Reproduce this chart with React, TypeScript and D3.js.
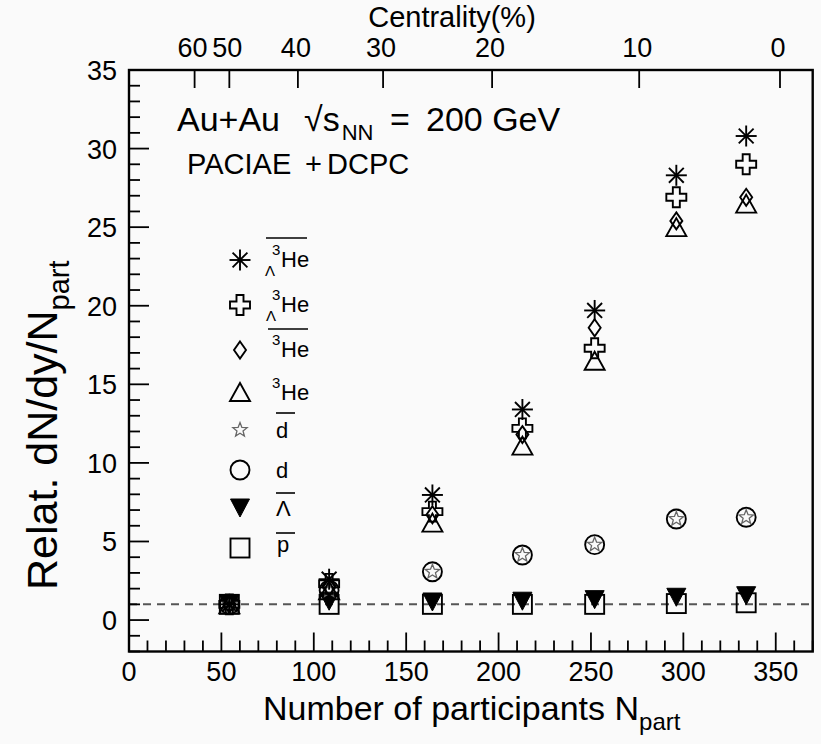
import React, { useEffect } from 'react';
import * as d3 from 'd3';

// ---- data ----
const npart = [54.3, 108.3, 164.2, 212.9, 252.0, 296.2, 334.0];
const hypHe3Bar = [1, 2.6, 7.96, 13.4, 19.7, 28.3, 30.8];
const hypHe3 = [1, 2.3, 6.9, 12.2, 17.3, 26.9, 29.0];
const he3Bar = [1, 2.1, 6.7, 11.8, 18.6, 25.4, 26.9];
const he3 = [1, 1.9, 6.2, 11.1, 16.5, 25.0, 26.5];
const dBar = [1, 1.9, 3.07, 4.14, 4.8, 6.43, 6.54];
const dVals = [1, 1.9, 3.07, 4.14, 4.8, 6.43, 6.54];
const lambdaBar = [1, 1.2, 1.15, 1.2, 1.3, 1.45, 1.55];
const pBar = [1, 1, 1, 1, 1, 1.05, 1.1];

const xTicks = [0, 50, 100, 150, 200, 250, 300, 350];
const yTicks = [0, 5, 10, 15, 20, 25, 30, 35];
const centralityLabels = ['60', '50', '40', '30', '20', '10', '0'];
const centralityNpart = [35.5, 54.3, 91.4, 137.5, 196.5, 276.1, 352.3];

type Shape = 'asterisk' | 'cross' | 'diamond' | 'triUp' | 'star' | 'circle' | 'triDown' | 'square';

const seriesList: { key: string; shape: Shape; values: number[] }[] = [
  { key: 'pbar', shape: 'square', values: pBar },
  { key: 'lbar', shape: 'triDown', values: lambdaBar },
  { key: 'd', shape: 'circle', values: dVals },
  { key: 'dbar', shape: 'star', values: dBar },
  { key: 'he3', shape: 'triUp', values: he3 },
  { key: 'he3bar', shape: 'diamond', values: he3Bar },
  { key: 'hyphe3', shape: 'cross', values: hypHe3 },
  { key: 'hyphe3bar', shape: 'asterisk', values: hypHe3Bar },
];

const FONT = '"Liberation Sans", Arial, Helvetica, sans-serif';

function Marker({ shape, cx, cy }: { shape: Shape; cx: number; cy: number }) {
  const sw = 1.9;
  switch (shape) {
    case 'asterisk': {
      const r = 10.5;
      const d = r * Math.SQRT1_2;
      return (
        <g stroke="#000" strokeWidth={sw} fill="none">
          <line x1={cx - r} y1={cy} x2={cx + r} y2={cy} />
          <line x1={cx} y1={cy - r} x2={cx} y2={cy + r} />
          <line x1={cx - d} y1={cy - d} x2={cx + d} y2={cy + d} />
          <line x1={cx - d} y1={cy + d} x2={cx + d} y2={cy - d} />
          <circle cx={cx} cy={cy} r={2} fill="#000" stroke="none" />
        </g>
      );
    }
    case 'cross': {
      const a = 10, b = 3.5;
      const p = [
        [-b, -a], [b, -a], [b, -b], [a, -b], [a, b], [b, b], [b, a], [-b, a], [-b, b], [-a, b], [-a, -b], [-b, -b],
      ].map(([x, y]) => `${cx + x},${cy + y}`).join(' ');
      return <polygon points={p} fill="none" stroke="#000" strokeWidth={sw} strokeLinejoin="miter" />;
    }
    case 'diamond': {
      const w = 6, h = 8.5;
      const p = `${cx},${cy - h} ${cx + w},${cy} ${cx},${cy + h} ${cx - w},${cy}`;
      return <polygon points={p} fill="none" stroke="#000" strokeWidth={sw} />;
    }
    case 'triUp': {
      const w = 10, h = 9;
      const p = `${cx},${cy - h} ${cx + w},${cy + h} ${cx - w},${cy + h}`;
      return <polygon points={p} fill="none" stroke="#000" strokeWidth={sw} />;
    }
    case 'triDown': {
      const w = 9.5, h = 9;
      const p = `${cx - w},${cy - h} ${cx + w},${cy - h} ${cx},${cy + h}`;
      return <polygon points={p} fill="#000" stroke="#000" strokeWidth={1} />;
    }
    case 'square': {
      const s = 9.5;
      return <rect x={cx - s} y={cy - s} width={2 * s} height={2 * s} fill="none" stroke="#000" strokeWidth={sw} />;
    }
    case 'circle':
      return <circle cx={cx} cy={cy} r={9.5} fill="none" stroke="#000" strokeWidth={sw} />;
    case 'star': {
      const ro = 7.5, ri = 3.2;
      const pts: string[] = [];
      for (let i = 0; i < 10; i++) {
        const r = i % 2 === 0 ? ro : ri;
        const ang = -Math.PI / 2 + (i * Math.PI) / 5;
        pts.push(`${cx + r * Math.cos(ang)},${cy + r * Math.sin(ang)}`);
      }
      return <polygon points={pts.join(' ')} fill="none" stroke="#666" strokeWidth={1.3} />;
    }
  }
  return null;
}

export default function App() {
  useEffect(() => {
    document.body.style.margin = '0';
  }, []);

  const W = 821, H = 744;
  const left = 129, right = 812.7, top = 70, bottom = 651.5;
  const x = d3.scaleLinear().domain([0, 370]).range([left, right]);
  const y = d3.scaleLinear().domain([-2, 35]).range([bottom, top]);

  const xMinor = d3.range(0, 371, 10);
  const yMinor = d3.range(-2, 36, 1);

  const legendRows: { shape: Shape; cy: number }[] = [
    { shape: 'asterisk', cy: 260 },
    { shape: 'cross', cy: 305 },
    { shape: 'diamond', cy: 350 },
    { shape: 'triUp', cy: 392 },
    { shape: 'star', cy: 430 },
    { shape: 'circle', cy: 470 },
    { shape: 'triDown', cy: 508 },
    { shape: 'square', cy: 548 },
  ];
  const lx = 240;
  const tx = 272;

  return (
    <svg width={W} height={H} style={{ display: 'block', background: '#fafafa' }} fontFamily={FONT}>
      {/* dashed reference line */}
      <line x1={left} x2={right} y1={y(1)} y2={y(1)} stroke="#555" strokeWidth={2} strokeDasharray="8,6" />

      {/* ticks */}
      <g stroke="#000" strokeWidth={1.8}>
        {xMinor.map((v) => (
          <line key={'xm' + v} x1={x(v)} x2={x(v)} y1={bottom} y2={bottom - (v % 50 === 0 ? 19 : 11)} />
        ))}
        {yMinor.map((v) => (
          <line key={'ym' + v} x1={left} x2={left + (v % 5 === 0 ? 20 : 11)} y1={y(v)} y2={y(v)} />
        ))}
        {centralityNpart.map((v, i) => (
          <line key={'ct' + i} x1={x(v)} x2={x(v)} y1={top} y2={top + 18} />
        ))}
      </g>

      {/* frame */}
      <rect x={left} y={top} width={right - left} height={bottom - top} fill="none" stroke="#000" strokeWidth={2.4} />

      {/* tick labels */}
      <g fontSize={27} fill="#000">
        {xTicks.map((v) => (
          <text key={'xl' + v} x={x(v)} y={681} textAnchor="middle">{v}</text>
        ))}
        {yTicks.map((v) => (
          <text key={'yl' + v} x={117} y={y(v) + 10} textAnchor="end">{v}</text>
        ))}
        {centralityLabels.map((t, i) => (
          <text key={'cl' + i} x={x(centralityNpart[i]) - 2} y={57} textAnchor="middle">{t}</text>
        ))}
      </g>

      {/* axis titles */}
      <text x={452} y={27} textAnchor="middle" fontSize={29}>Centrality(%)</text>
      <text x={263} y={720} fontSize={34}>
        Number of participants N<tspan fontSize={24} dy={10}>part</tspan>
      </text>
      <text transform="translate(57,590) rotate(-90)" fontSize={43}>
        Relat. dN/dy/N<tspan fontSize={29} dy={12}>part</tspan>
      </text>

      {/* annotations */}
      <text x={177} y={131} fontSize={34}>Au+Au</text>
      <text x={304} y={131} fontSize={34}>
        √s<tspan fontSize={22} dy={9} dx={2}>NN</tspan>
      </text>
      <text x={390} y={131} fontSize={34}>=</text>
      <text x={426} y={131} fontSize={34}>200 GeV</text>
      <text x={187} y={174} fontSize={29}>PACIAE</text>
      <text x={305} y={174} fontSize={29}>+</text>
      <text x={327} y={174} fontSize={29}>DCPC</text>

      {/* data */}
      {seriesList.map((s) => (
        <g key={s.key}>
          {s.values.map((v, i) => (
            <Marker key={i} shape={s.shape} cx={x(npart[i])} cy={y(v)} />
          ))}
        </g>
      ))}

      {/* legend */}
      {legendRows.map((r, i) => (
        <Marker key={'lg' + i} shape={r.shape} cx={lx} cy={r.cy} />
      ))}
      <g fontSize={22} fill="#000">
        {/* anti-hypertriton */}
        <text x={tx} y={255} fontSize={15}>3</text>
        <text x={265} y={276} fontSize={15}>Λ</text>
        <text x={281} y={267}>He</text>
        <line x1={266} x2={307} y1={238} y2={238} stroke="#000" strokeWidth={1.6} />
        {/* hypertriton */}
        <text x={tx} y={300} fontSize={15}>3</text>
        <text x={266} y={321} fontSize={15}>Λ</text>
        <text x={281} y={312}>He</text>
        {/* anti-He3 */}
        <text x={tx} y={345} fontSize={15}>3</text>
        <text x={281} y={357}>He</text>
        <line x1={268} x2={308} y1={329} y2={329} stroke="#000" strokeWidth={1.6} />
        {/* He3 */}
        <text x={tx} y={388} fontSize={15}>3</text>
        <text x={281} y={400}>He</text>
        {/* dbar */}
        <text x={276} y={438}>d</text>
        <line x1={276} x2={295} y1={413} y2={413} stroke="#000" strokeWidth={1.6} />
        {/* d */}
        <text x={276} y={478}>d</text>
        {/* lambda bar */}
        <text x={276} y={516}>Λ</text>
        <line x1={276} x2={295} y1={493} y2={493} stroke="#000" strokeWidth={1.6} />
        {/* pbar */}
        <text x={277} y={552}>p</text>
        <line x1={276} x2={295} y1={533} y2={533} stroke="#000" strokeWidth={1.6} />
      </g>
    </svg>
  );
}
